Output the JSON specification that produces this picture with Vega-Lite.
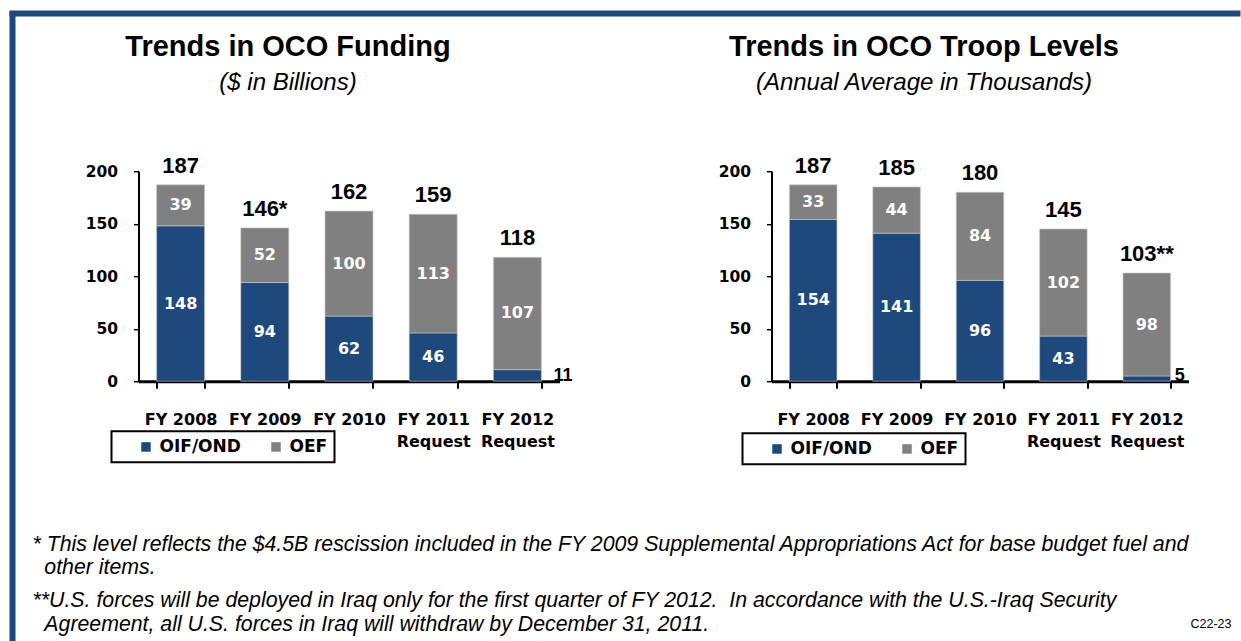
{
  "$schema": "https://vega.github.io/schema/vega-lite/v6.json",
  "background": "white",
  "padding": {"left": 9, "top": 10, "right": 0, "bottom": 0},
  "datasets": {
    "funding": [
      {"year": "FY 2008", "series": "OIF/OND", "value": 148},
      {"year": "FY 2008", "series": "OEF", "value": 39},
      {"year": "FY 2009", "series": "OIF/OND", "value": 94},
      {"year": "FY 2009", "series": "OEF", "value": 52},
      {"year": "FY 2010", "series": "OIF/OND", "value": 62},
      {"year": "FY 2010", "series": "OEF", "value": 100},
      {"year": "FY 2011|Request", "series": "OIF/OND", "value": 46},
      {"year": "FY 2011|Request", "series": "OEF", "value": 113},
      {"year": "FY 2012|Request", "series": "OIF/OND", "value": 11},
      {"year": "FY 2012|Request", "series": "OEF", "value": 107}
    ],
    "fundingTotals": [
      {"year": "FY 2008", "total": 187, "label": "187"},
      {"year": "FY 2009", "total": 146, "label": "146*"},
      {"year": "FY 2010", "total": 162, "label": "162"},
      {"year": "FY 2011|Request", "total": 159, "label": "159"},
      {"year": "FY 2012|Request", "total": 118, "label": "118"}
    ],
    "troops": [
      {"year": "FY 2008", "series": "OIF/OND", "value": 154},
      {"year": "FY 2008", "series": "OEF", "value": 33},
      {"year": "FY 2009", "series": "OIF/OND", "value": 141},
      {"year": "FY 2009", "series": "OEF", "value": 44},
      {"year": "FY 2010", "series": "OIF/OND", "value": 96},
      {"year": "FY 2010", "series": "OEF", "value": 84},
      {"year": "FY 2011|Request", "series": "OIF/OND", "value": 43},
      {"year": "FY 2011|Request", "series": "OEF", "value": 102},
      {"year": "FY 2012|Request", "series": "OIF/OND", "value": 5},
      {"year": "FY 2012|Request", "series": "OEF", "value": 98}
    ],
    "troopTotals": [
      {"year": "FY 2008", "total": 187, "label": "187"},
      {"year": "FY 2009", "total": 185, "label": "185"},
      {"year": "FY 2010", "total": 180, "label": "180"},
      {"year": "FY 2011|Request", "total": 145, "label": "145"},
      {"year": "FY 2012|Request", "total": 103, "label": "103**"}
    ]
  },
  "vconcat": [
    {
      "width": 1226, "height": 1,
      "data": {"values": []},
      "mark": "point",
      "encoding": {},
      "view": {"stroke": "#1F497D", "strokeWidth": 5}
    },
    {
      "hconcat": [
        {
          "width": 1, "height": 625,
          "data": {"values": []},
          "mark": "point",
          "encoding": {},
          "view": {"stroke": "#1F497D", "strokeWidth": 5}
        },
        {
          "vconcat": [
            {"width": 1, "height": 1, "data": {"values": []}, "mark": "point", "encoding": {}},
            {
              "concat": [
                {
                  "width": 421, "height": 210,
                  "title": {"text": "Trends in OCO Funding", "subtitle": "($ in Billions)", "anchor": "middle", "frame": "group", "dx": -61, "offset": 60, "font": "Liberation Sans", "fontSize": 29, "fontWeight": "bold", "color": "black", "subtitleFont": "Liberation Sans", "subtitleFontSize": 24, "subtitleFontStyle": "italic", "subtitleColor": "black", "subtitlePadding": 9},
                  "layer": [
                    {
                      "data": {"name": "funding"},
                      "mark": {"type": "bar", "stroke": "#c8c8c8", "strokeWidth": 0.6},
                      "encoding": {
                        "x": {"field": "year", "type": "nominal", "sort": null, "scale": {"paddingInner": 0.43, "paddingOuter": 0.215},
                          "axis": {"title": null, "domainColor": "black", "domainWidth": 3, "tickBand": "extent", "tickColor": "black", "tickSize": 7, "tickWidth": 2, "labelFont": "DejaVu Sans", "labelFontWeight": "bold", "labelFontSize": 16, "labelColor": "black", "labelPadding": 23, "labelAngle": 0, "labelLineHeight": 22, "labelExpr": "split(datum.label, '|')"}},
                        "y": {"field": "value", "type": "quantitative", "stack": "zero", "scale": {"domain": [0, 200], "nice": false},
                          "axis": {"title": null, "grid": false, "values": [0, 50, 100, 150, 200], "domainColor": "black", "domainWidth": 2, "tickColor": "black", "tickSize": 5, "tickWidth": 1.5, "labelFont": "DejaVu Sans", "labelFontWeight": "bold", "labelFontSize": 15.5, "labelColor": "black", "labelPadding": 16}},
                        "color": {"field": "series", "type": "nominal", "scale": {"domain": ["OIF/OND", "OEF"], "range": ["#1F497D", "#808080"]},
                          "legend": {"orient": "none", "legendX": -27, "legendY": 260, "direction": "horizontal", "title": null, "symbolType": "square", "symbolSize": 90, "symbolStrokeWidth": 0, "labelFont": "DejaVu Sans", "labelFontWeight": "bold", "labelFontSize": 17, "labelColor": "black", "strokeColor": "black", "padding": 7, "symbolOffset": 19, "columnPadding": 7, "labelOffset": 5}},
                        "order": {"field": "series", "sort": "descending"}
                      }
                    },
                    {
                      "data": {"name": "funding"},
                      "mark": {"type": "text", "color": "white", "font": "DejaVu Sans", "fontWeight": "bold", "fontSize": 16, "baseline": "middle"},
                      "encoding": {
                        "x": {"field": "year", "type": "nominal", "sort": null},
                        "y": {"field": "value", "type": "quantitative", "stack": "zero", "bandPosition": 0.5},
                        "detail": {"field": "series"},
                        "order": {"field": "series", "sort": "descending"},
                        "text": {"condition": {"test": "datum.value < 20", "value": ""}, "field": "value", "type": "quantitative"}
                      }
                    },
                    {
                      "data": {"name": "funding"},
                      "transform": [{"filter": "datum.value < 20"}],
                      "mark": {"type": "text", "color": "black", "font": "Liberation Sans", "fontWeight": "bold", "fontSize": 18, "align": "left", "baseline": "alphabetic", "dx": 36},
                      "encoding": {
                        "x": {"field": "year", "type": "nominal", "sort": null},
                        "y": {"datum": 0},
                        "text": {"field": "value", "type": "quantitative"}
                      }
                    },
                    {
                      "data": {"name": "fundingTotals"},
                      "mark": {"type": "text", "color": "black", "font": "Liberation Sans", "fontWeight": "bold", "fontSize": 22, "baseline": "alphabetic", "dy": -12},
                      "encoding": {
                        "x": {"field": "year", "type": "nominal", "sort": null},
                        "y": {"field": "total", "type": "quantitative"},
                        "text": {"field": "label"}
                      }
                    }
                  ]
                },
                {
                  "width": 417, "height": 210,
                  "title": {"text": "Trends in OCO Troop Levels", "subtitle": "(Annual Average in Thousands)", "anchor": "middle", "frame": "group", "dx": -56, "offset": 60, "font": "Liberation Sans", "fontSize": 29, "fontWeight": "bold", "color": "black", "subtitleFont": "Liberation Sans", "subtitleFontSize": 24, "subtitleFontStyle": "italic", "subtitleColor": "black", "subtitlePadding": 9},
                  "layer": [
                    {
                      "data": {"name": "troops"},
                      "mark": {"type": "bar", "stroke": "#c8c8c8", "strokeWidth": 0.6},
                      "encoding": {
                        "x": {"field": "year", "type": "nominal", "sort": null, "scale": {"paddingInner": 0.43, "paddingOuter": 0.215},
                          "axis": {"title": null, "domainColor": "black", "domainWidth": 3, "tickBand": "extent", "tickColor": "black", "tickSize": 7, "tickWidth": 2, "labelFont": "DejaVu Sans", "labelFontWeight": "bold", "labelFontSize": 16, "labelColor": "black", "labelPadding": 23, "labelAngle": 0, "labelLineHeight": 22, "labelExpr": "split(datum.label, '|')"}},
                        "y": {"field": "value", "type": "quantitative", "stack": "zero", "scale": {"domain": [0, 200], "nice": false},
                          "axis": {"title": null, "grid": false, "values": [0, 50, 100, 150, 200], "domainColor": "black", "domainWidth": 2, "tickColor": "black", "tickSize": 5, "tickWidth": 1.5, "labelFont": "DejaVu Sans", "labelFontWeight": "bold", "labelFontSize": 15.5, "labelColor": "black", "labelPadding": 16}},
                        "color": {"field": "series", "type": "nominal", "scale": {"domain": ["OIF/OND", "OEF"], "range": ["#1F497D", "#808080"]},
                          "legend": {"orient": "none", "legendX": -29, "legendY": 262, "direction": "horizontal", "title": null, "symbolType": "square", "symbolSize": 90, "symbolStrokeWidth": 0, "labelFont": "DejaVu Sans", "labelFontWeight": "bold", "labelFontSize": 17, "labelColor": "black", "strokeColor": "black", "padding": 7, "symbolOffset": 19, "columnPadding": 7, "labelOffset": 5}},
                        "order": {"field": "series", "sort": "descending"}
                      }
                    },
                    {
                      "data": {"name": "troops"},
                      "mark": {"type": "text", "color": "white", "font": "DejaVu Sans", "fontWeight": "bold", "fontSize": 16, "baseline": "middle"},
                      "encoding": {
                        "x": {"field": "year", "type": "nominal", "sort": null},
                        "y": {"field": "value", "type": "quantitative", "stack": "zero", "bandPosition": 0.5},
                        "detail": {"field": "series"},
                        "order": {"field": "series", "sort": "descending"},
                        "text": {"condition": {"test": "datum.value < 20", "value": ""}, "field": "value", "type": "quantitative"}
                      }
                    },
                    {
                      "data": {"name": "troops"},
                      "transform": [{"filter": "datum.value < 20"}],
                      "mark": {"type": "text", "color": "black", "font": "Liberation Sans", "fontWeight": "bold", "fontSize": 18, "align": "left", "baseline": "alphabetic", "dx": 28},
                      "encoding": {
                        "x": {"field": "year", "type": "nominal", "sort": null},
                        "y": {"datum": 0},
                        "text": {"field": "value", "type": "quantitative"}
                      }
                    },
                    {
                      "data": {"name": "troopTotals"},
                      "mark": {"type": "text", "color": "black", "font": "Liberation Sans", "fontWeight": "bold", "fontSize": 22, "baseline": "alphabetic", "dy": -12},
                      "encoding": {
                        "x": {"field": "year", "type": "nominal", "sort": null},
                        "y": {"field": "total", "type": "quantitative"},
                        "text": {"field": "label"}
                      }
                    }
                  ]
                },
                {
                  "width": 1, "height": 1,
                  "data": {"values": []},
                  "mark": "point",
                  "encoding": {},
                  "title": {
                    "text": ["* This level reflects the $4.5B rescission included in the FY 2009 Supplemental Appropriations Act for base budget fuel and", "\u200b\u00a0\u00a0other items."],
                    "subtitle": ["**U.S. forces will be deployed in Iraq only for the first quarter of FY 2012.\u00a0 In accordance with the U.S.-Iraq Security", "\u200b\u00a0\u00a0Agreement, all U.S. forces in Iraq will withdraw by December 31, 2011."],
                    "orient": "top", "anchor": "start", "frame": "group", "dx": -106, "offset": -8,
                    "font": "Liberation Sans", "fontSize": 21.3, "fontStyle": "italic", "fontWeight": "normal", "color": "black", "lineHeight": 23,
                    "subtitleFont": "Liberation Sans", "subtitleFontSize": 21.3, "subtitleFontStyle": "italic", "subtitleColor": "black", "subtitleLineHeight": 24, "subtitlePadding": 12
                  }
                },
                {
                  "width": 460, "height": 1,
                  "data": {"values": [{"code": "C22-23"}]},
                  "mark": {"type": "text", "align": "right", "baseline": "alphabetic", "font": "Liberation Sans", "fontSize": 12.5, "color": "black"},
                  "encoding": {"x": {"value": "width"}, "text": {"field": "code"}}
                }
              ],
              "columns": 2,
              "spacing": {"row": 246.3, "column": 212},
              "bounds": "flush",
              "resolve": {"scale": {"color": "independent"}}
            }
          ],
          "spacing": 156.2,
          "bounds": "flush"
        }
      ],
      "spacing": 125.5,
      "bounds": "flush"
    }
  ],
  "spacing": 0,
  "bounds": "flush",
  "config": {
    "view": {"stroke": null},
    "legend": {"strokeWidth": 2}
  }
}
